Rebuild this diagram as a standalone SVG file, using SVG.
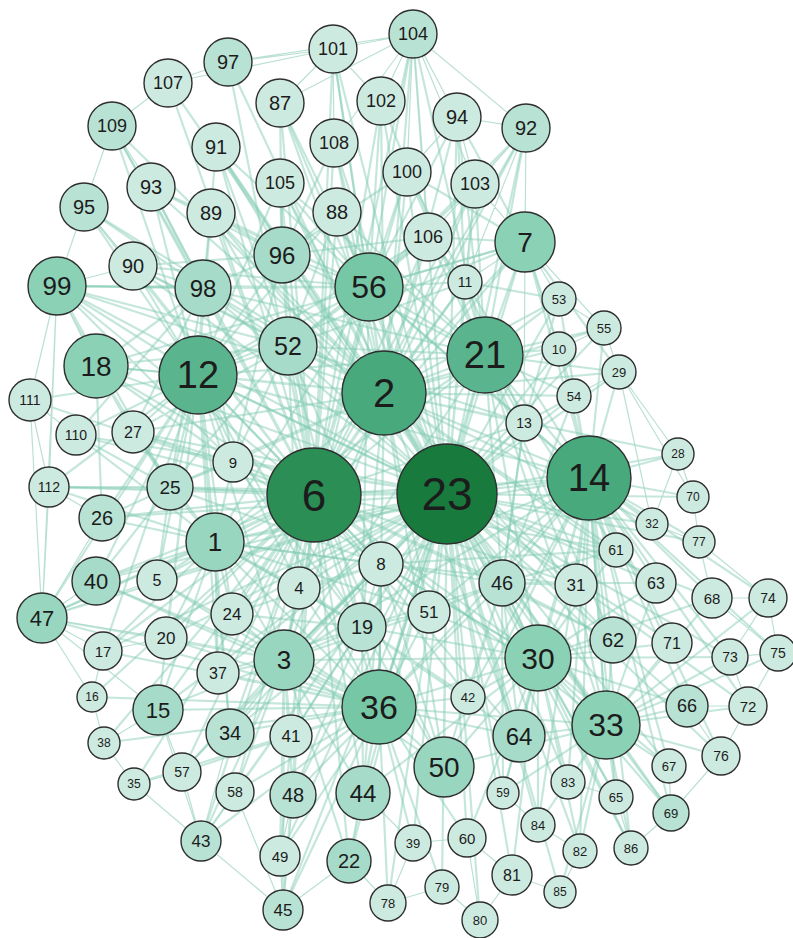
<svg xmlns="http://www.w3.org/2000/svg" width="793" height="938" viewBox="0 0 793 938">
<style>
.e{fill:none;stroke:#80cbb0;stroke-opacity:.46;stroke-width:2.2}
.p{fill:none;stroke:#a9d8c9;stroke-opacity:.8;stroke-width:1.2}
circle{stroke:#2e2e2e;stroke-width:1.4}
text{font-family:"Liberation Sans",Arial,sans-serif;text-anchor:middle;dominant-baseline:central;fill:#1c1c1c}
.a{fill:#cdeae1}.b{fill:#b8e2d4}.c{fill:#a5dbc8}.d{fill:#98d6c0}.e2{fill:#8ad1b6}.f{fill:#75c7a6}.g{fill:#5ab48d}.h{fill:#48a97c}.i{fill:#2a8e55}.j{fill:#187a3c}
.s12{font-size:12px}.s13{font-size:13px}.s14{font-size:14px}.s15{font-size:15px}.s16{font-size:16px}.s17{font-size:17px}.s18{font-size:18px}.s19{font-size:19px}.s20{font-size:20px}.s22{font-size:22px}.s24{font-size:24px}.s25{font-size:25px}.s26{font-size:26px}.s28{font-size:28px}.s30{font-size:30px}.s32{font-size:32px}.s34{font-size:34px}.s38{font-size:38px}.s40{font-size:40px}.s44{font-size:44px}.s46{font-size:46px}
</style>
<rect width="793" height="938" fill="#ffffff"/>
<g id="connectors">
<path class="e" d="M314 495L447 494L384 393M589 478L447 494L198 375M485 355L447 494L369 287M379 707L447 494L538 658M606 725L447 494L215 542M284 660L447 494L299 588M381 564L447 494L233 462M524 423L447 494L362 627M502 583L447 494L576 585M429 612L447 494L444 767M519 736L447 494L363 793M468 697L447 494L616 550M613 640L447 494L656 583M652 524L447 494L574 396M559 349L447 494L465 282M525 242L447 494L288 346M282 255L447 494L203 288M428 237L447 494L407 172M475 184L447 494L337 212M280 183L447 494L334 143M381 101L447 494L457 117M526 128L447 494L170 487M102 518L447 494L133 432M96 366L447 494L57 286M232 614L447 494L166 638M218 673L447 494L230 733M291 736L447 494L293 795M349 861L447 494L413 843M467 838L447 494L503 793M568 782L447 494L538 825M616 797L447 494L687 706M669 766L447 494L672 643M712 598L447 494L699 542M693 497L447 494L678 454M619 372L447 494L559 299M604 328L447 494L157 580M96 581L447 494L158 710M235 792L447 494L201 841M512 875L447 494L442 887M388 903L447 494L480 920M730 657L447 494L748 706M721 756L447 494L671 813M631 848L447 494L580 851M560 892L447 494L280 856M283 910L447 494L182 772M103 651L447 494L76 435M49 487L447 494L42 618M211 213L447 494L133 266M216 147L447 494L280 103M333 49L447 494L413 34"/>
<path class="e" d="M384 393L314 495L198 375M485 355L314 495L369 287M379 707L314 495L538 658M606 725L314 495L215 542M284 660L314 495L299 588M381 564L314 495L233 462M362 627L314 495L170 487M102 518L314 495L133 432M96 366L314 495L57 286M232 614L314 495L166 638M157 580L314 495L96 581M42 618L314 495L218 673M230 733L314 495L158 710M291 736L314 495L293 795M363 793L314 495L444 767M502 583L314 495L429 612M288 346L314 495L282 255M203 288L314 495L211 213M133 266L314 495L151 187M84 207L314 495L280 183M337 212L314 495L216 147M280 103L314 495L334 143M76 435L314 495L30 400M49 487L314 495L103 651M92 697L314 495L104 743M134 784L314 495L182 772M235 792L314 495L201 841M280 856L314 495L349 861M283 910L314 495L519 736M468 697L314 495L524 423M589 478L314 495L576 585M613 640L314 495L616 550M465 282L314 495L428 237M407 172L314 495L525 242M526 128L314 495L475 184M413 34L314 495L333 49M381 101L314 495L112 126M168 83L314 495L228 62"/>
<path class="e" d="M198 375L384 393L485 355M369 287L384 393L288 346M282 255L384 393L203 288M337 212L384 393L428 237M407 172L384 393L475 184M280 183L384 393L334 143M525 242L384 393L465 282M524 423L384 393L589 478M574 396L384 393L559 349M559 299L384 393L604 328M215 542L384 393L233 462M170 487L384 393L133 432M96 366L384 393L57 286M133 266L384 393L284 660M362 627L384 393L379 707M538 658L384 393L606 725M502 583L384 393L576 585M381 564L384 393L299 588M429 612L384 393L444 767M519 736L384 393L613 640M616 550L384 393L656 583M652 524L384 393L678 454M526 128L384 393L457 117M381 101L384 393L413 34M333 49L384 393L280 103M216 147L384 393L211 213M151 187L384 393L84 207M112 126L384 393L168 83M228 62L384 393L619 372"/>
<path class="e" d="M485 355L589 478L678 454M693 497L589 478L699 542M652 524L589 478L616 550M656 583L589 478L712 598M768 598L589 478L576 585M613 640L589 478L672 643M730 657L589 478L778 653M538 658L589 478L606 725M687 706L589 478L748 706M721 756L589 478L669 766M671 813L589 478L616 797M568 782L589 478L502 583M524 423L589 478L574 396M619 372L589 478L559 349M604 328L589 478L559 299M525 242L589 478L465 282M198 375L589 478L369 287M429 612L589 478L519 736M444 767L589 478L379 707M468 697L589 478L503 793M538 825L589 478L580 851M631 848L589 478L284 660M215 542L589 478L381 564"/>
<path class="e" d="M96 366L198 375L57 286M30 400L198 375L76 435M133 432L198 375L170 487M233 462L198 375L102 518M49 487L198 375L96 581M42 618L198 375L157 580M215 542L198 375L288 346M203 288L198 375L133 266M84 207L198 375L151 187M211 213L198 375L282 255M369 287L198 375L485 355M284 660L198 375L232 614M166 638L198 375L299 588M381 564L198 375L379 707M362 627L198 375L103 651M158 710L198 375L218 673M230 733L198 375L112 126M216 147L198 375L280 183M337 212L198 375L428 237M525 242L198 375L447 494"/>
<path class="e" d="M525 242L485 355L465 282M559 299L485 355L604 328M559 349L485 355L574 396M524 423L485 355L619 372M428 237L485 355L475 184M407 172L485 355L526 128M457 117L485 355L369 287M288 346L485 355L282 255M203 288L485 355L337 212M280 183L485 355L381 101M413 34L485 355L538 658M606 725L485 355L502 583M576 585L485 355L613 640M616 550L485 355L379 707M284 660L485 355L215 542"/>
<path class="e" d="M288 346L369 287L282 255M203 288L369 287L337 212M428 237L369 287L407 172M280 183L369 287L334 143M381 101L369 287L333 49M413 34L369 287L280 103M216 147L369 287L211 213M151 187L369 287L133 266M57 286L369 287L96 366M525 242L369 287L465 282M475 184L369 287L526 128M457 117L369 287L524 423M284 660L369 287L215 542M362 627L369 287L589 478"/>
<path class="e" d="M284 660L379 707L362 627M291 736L379 707L293 795M363 793L379 707L349 861M230 733L379 707L218 673M158 710L379 707L232 614M166 638L379 707L299 588M381 564L379 707L429 612M444 767L379 707L468 697M519 736L379 707L538 658M606 725L379 707L413 843M467 838L379 707L283 910M280 856L379 707L235 792M182 772L379 707L201 841M388 903L379 707L442 887M502 583L379 707L215 542M157 580L379 707L96 581M42 618L379 707L92 697M104 743L379 707L134 784M103 651L379 707L447 494"/>
<path class="e" d="M606 725L538 658L613 640M519 736L538 658L444 767M468 697L538 658L502 583M576 585L538 658L616 550M656 583L538 658L672 643M687 706L538 658L503 793M568 782L538 658L538 825M616 797L538 658L467 838M512 875L538 658L284 660M362 627L538 658L429 612M381 564L538 658L363 793M580 851L538 658L631 848M669 766L538 658L671 813M712 598L538 658L730 657"/>
<path class="e" d="M613 640L606 725L672 643M687 706L606 725L748 706M730 657L606 725L778 653M721 756L606 725L669 766M671 813L606 725L616 797M631 848L606 725L580 851M568 782L606 725L538 825M560 892L606 725L519 736M503 793L606 725L444 767M656 583L606 725L712 598M768 598L606 725L502 583M576 585L606 725L589 478"/>
<path class="e" d="M170 487L215 542L102 518M96 581L215 542L157 580M232 614L215 542L166 638M218 673L215 542L284 660M299 588L215 542L233 462M133 432L215 542L76 435M49 487L215 542L42 618M103 651L215 542L158 710M230 733L215 542L362 627M381 564L215 542L429 612"/>
<path class="e" d="M232 614L284 660L218 673M299 588L284 660L362 627M230 733L284 660L291 736M293 795L284 660L158 710M166 638L284 660L157 580M96 581L284 660L235 792M182 772L284 660L201 841M280 856L284 660L363 793M381 564L284 660L429 612M444 767L284 660L349 861M283 910L284 660L42 618"/>
<path class="e" d="M282 255L288 346L203 288M211 213L288 346L280 183M337 212L288 346L216 147M133 266L288 346L233 462M133 432L288 346L170 487M381 564L288 346L299 588M362 627L288 346L524 423M465 282L288 346L428 237M57 286L133 432M57 286L170 487M57 286L233 462M57 286L203 288M57 286L288 346M96 366L133 432M96 366L170 487M96 366L102 518M96 366L233 462M96 366L288 346M96 366L203 288"/>
<path class="e" d="M215 542L381 564L284 660M299 588L381 564L233 462M232 614L381 564L362 627M429 612L381 564L502 583M576 585L381 564L379 707M538 658L381 564L363 793M444 767L381 564L170 487M524 423L381 564L616 550M215 542L362 627L299 588M232 614L362 627L218 673M291 736L362 627L230 733M293 795L362 627L363 793M444 767L362 627L429 612M468 697L362 627L519 736M502 583L362 627L233 462M576 585L502 583L616 550M613 640L502 583L538 658M519 736L502 583L468 697M429 612L502 583L444 767M524 423L502 583L574 396M656 583L502 583L503 793"/>
<path class="e" d="M211 213L282 255L280 183M337 212L282 255L216 147M280 103L282 255L334 143M203 288L282 255L133 266M151 187L282 255L233 462M428 237L282 255L407 172M133 266L203 288L211 213M151 187L203 288L84 207M57 286L203 288L133 432M170 487L203 288L233 462M76 435L203 288L112 126M428 237L525 242L407 172M457 117L525 242L619 372M574 396L525 242L369 287M170 487L233 462L133 432M102 518L170 487L133 432M76 435L170 487L49 487M157 580L170 487L96 581M465 282L524 423L574 396M559 349L524 423L502 583M524 423L559 299M465 282L559 299M465 282L428 237M465 282L407 172M465 282L457 117"/>
<path class="p" d="M413 34L333 49M413 34L381 101M413 34L457 117M413 34L526 128M413 34L407 172M413 34L334 143M413 34L475 184M413 34L428 237M413 34L280 103M413 34L228 62M333 49L228 62M333 49L168 83M333 49L280 103M333 49L381 101M333 49L334 143M228 62L168 83M168 83L112 126M112 126L84 207M112 126L151 187M84 207L57 286M84 207L133 266M57 286L30 400M57 286L49 487M57 286L42 618M57 286L96 366M57 286L133 266M30 400L49 487M30 400L42 618M30 400L76 435M49 487L42 618M49 487L102 518M42 618L96 581M42 618L102 518M42 618L103 651M42 618L157 580M42 618L166 638M42 618L158 710M42 618L92 697M526 128L457 117M526 128L475 184M526 128L525 242M526 128L428 237M526 128L465 282M475 184L525 242M475 184L465 282M457 117L475 184M457 117L407 172M525 242L559 299M525 242L604 328M525 242L559 349M525 242L524 423M525 242L465 282M559 299L604 328M604 328L619 372M604 328L559 349M619 372L574 396M619 372L678 454M678 454L693 497M693 497L699 542M652 524L699 542M699 542L768 598M768 598L712 598M768 598L778 653M712 598L778 653M778 653L730 657M730 657L748 706M748 706L687 706M748 706L721 756M687 706L721 756M721 756L671 813M669 766L671 813M671 813L631 848M631 848L616 797M580 851L560 892M580 851L538 825M560 892L512 875M512 875L480 920M480 920L442 887M480 920L467 838M442 887L388 903M388 903L349 861M388 903L413 843M413 843L467 838M283 910L280 856M283 910L201 841M283 910L349 861M283 910L293 795M283 910L235 792M201 841L235 792M201 841L182 772M201 841L134 784M201 841L158 710M201 841L230 733M134 784L104 743M104 743L92 697M134 784L182 772M92 697L103 651M103 651L166 638M158 710L182 772M158 710L104 743M280 856L293 795M349 861L363 793M413 843L363 793M467 838L512 875M538 825L503 793M568 782L616 797M778 653L748 706M768 598L730 657M699 542L712 598M678 454L652 524M619 372L652 524M619 372L693 497"/>
</g>
<g id="nodes">
<g id="n104"><circle class="b" cx="413" cy="34" r="24"/><text class="s18" x="413" y="34">104</text></g>
<g id="n101"><circle class="a" cx="333" cy="49" r="24"/><text class="s18" x="333" y="49">101</text></g>
<g id="n97"><circle class="b" cx="228" cy="62" r="24"/><text class="s20" x="228" y="62">97</text></g>
<g id="n107"><circle class="a" cx="168" cy="83" r="24"/><text class="s18" x="168" y="83">107</text></g>
<g id="n87"><circle class="a" cx="280" cy="103" r="24"/><text class="s20" x="280" y="103">87</text></g>
<g id="n102"><circle class="a" cx="381" cy="101" r="24"/><text class="s18" x="381" y="101">102</text></g>
<g id="n94"><circle class="a" cx="457" cy="117" r="24"/><text class="s20" x="457" y="117">94</text></g>
<g id="n92"><circle class="b" cx="526" cy="128" r="24"/><text class="s20" x="526" y="128">92</text></g>
<g id="n109"><circle class="b" cx="112" cy="126" r="24"/><text class="s18" x="112" y="126">109</text></g>
<g id="n91"><circle class="a" cx="216" cy="147" r="24"/><text class="s20" x="216" y="147">91</text></g>
<g id="n108"><circle class="a" cx="334" cy="143" r="24"/><text class="s18" x="334" y="143">108</text></g>
<g id="n100"><circle class="a" cx="407" cy="172" r="24"/><text class="s18" x="407" y="172">100</text></g>
<g id="n103"><circle class="a" cx="475" cy="184" r="24"/><text class="s18" x="475" y="184">103</text></g>
<g id="n93"><circle class="a" cx="151" cy="187" r="24"/><text class="s20" x="151" y="187">93</text></g>
<g id="n105"><circle class="a" cx="280" cy="183" r="24"/><text class="s18" x="280" y="183">105</text></g>
<g id="n95"><circle class="b" cx="84" cy="207" r="24"/><text class="s20" x="84" y="207">95</text></g>
<g id="n89"><circle class="a" cx="211" cy="213" r="24"/><text class="s20" x="211" y="213">89</text></g>
<g id="n88"><circle class="a" cx="337" cy="212" r="24"/><text class="s20" x="337" y="212">88</text></g>
<g id="n106"><circle class="a" cx="428" cy="237" r="24"/><text class="s18" x="428" y="237">106</text></g>
<g id="n7"><circle class="e2" cx="525" cy="242" r="30"/><text class="s28" x="525" y="242">7</text></g>
<g id="n96"><circle class="c" cx="282" cy="255" r="28"/><text class="s24" x="282" y="255">96</text></g>
<g id="n90"><circle class="a" cx="133" cy="266" r="24"/><text class="s20" x="133" y="266">90</text></g>
<g id="n99"><circle class="e2" cx="57" cy="286" r="29"/><text class="s26" x="57" y="286">99</text></g>
<g id="n98"><circle class="c" cx="203" cy="288" r="28"/><text class="s24" x="203" y="288">98</text></g>
<g id="n56"><circle class="f" cx="369" cy="287" r="34"/><text class="s32" x="369" y="287">56</text></g>
<g id="n11"><circle class="a" cx="465" cy="282" r="17"/><text class="s14" x="465" y="282">11</text></g>
<g id="n53"><circle class="a" cx="559" cy="299" r="17"/><text class="s13" x="559" y="299">53</text></g>
<g id="n55"><circle class="a" cx="604" cy="328" r="17"/><text class="s13" x="604" y="328">55</text></g>
<g id="n52"><circle class="c" cx="288" cy="346" r="29"/><text class="s25" x="288" y="346">52</text></g>
<g id="n18"><circle class="e2" cx="96" cy="366" r="32"/><text class="s28" x="96" y="366">18</text></g>
<g id="n12"><circle class="g" cx="198" cy="375" r="39"/><text class="s38" x="198" y="375">12</text></g>
<g id="n2"><circle class="h" cx="384" cy="393" r="42"/><text class="s40" x="384" y="393">2</text></g>
<g id="n21"><circle class="g" cx="485" cy="355" r="38"/><text class="s38" x="485" y="355">21</text></g>
<g id="n10"><circle class="a" cx="559" cy="349" r="17"/><text class="s13" x="559" y="349">10</text></g>
<g id="n29"><circle class="a" cx="619" cy="372" r="17"/><text class="s13" x="619" y="372">29</text></g>
<g id="n54"><circle class="a" cx="574" cy="396" r="17"/><text class="s13" x="574" y="396">54</text></g>
<g id="n13"><circle class="a" cx="524" cy="423" r="18"/><text class="s14" x="524" y="423">13</text></g>
<g id="n111"><circle class="a" cx="30" cy="400" r="21"/><text class="s14" x="30" y="400">111</text></g>
<g id="n110"><circle class="a" cx="76" cy="435" r="20"/><text class="s14" x="76" y="435">110</text></g>
<g id="n27"><circle class="a" cx="133" cy="432" r="21"/><text class="s16" x="133" y="432">27</text></g>
<g id="n9"><circle class="a" cx="233" cy="462" r="20"/><text class="s15" x="233" y="462">9</text></g>
<g id="n6"><circle class="i" cx="314" cy="495" r="47"/><text class="s44" x="314" y="495">6</text></g>
<g id="n23"><circle class="j" cx="447" cy="494" r="50"/><text class="s46" x="447" y="494">23</text></g>
<g id="n14"><circle class="h" cx="589" cy="478" r="42"/><text class="s38" x="589" y="478">14</text></g>
<g id="n28"><circle class="a" cx="678" cy="454" r="16"/><text class="s12" x="678" y="454">28</text></g>
<g id="n70"><circle class="a" cx="693" cy="497" r="16"/><text class="s12" x="693" y="497">70</text></g>
<g id="n25"><circle class="b" cx="170" cy="487" r="23"/><text class="s19" x="170" y="487">25</text></g>
<g id="n112"><circle class="a" cx="49" cy="487" r="20"/><text class="s14" x="49" y="487">112</text></g>
<g id="n26"><circle class="b" cx="102" cy="518" r="23"/><text class="s20" x="102" y="518">26</text></g>
<g id="n1"><circle class="d" cx="215" cy="542" r="29"/><text class="s26" x="215" y="542">1</text></g>
<g id="n8"><circle class="a" cx="381" cy="564" r="22"/><text class="s17" x="381" y="564">8</text></g>
<g id="n32"><circle class="a" cx="652" cy="524" r="16"/><text class="s12" x="652" y="524">32</text></g>
<g id="n77"><circle class="a" cx="699" cy="542" r="16"/><text class="s12" x="699" y="542">77</text></g>
<g id="n61"><circle class="a" cx="616" cy="550" r="17"/><text class="s14" x="616" y="550">61</text></g>
<g id="n40"><circle class="c" cx="96" cy="581" r="24"/><text class="s22" x="96" y="581">40</text></g>
<g id="n5"><circle class="a" cx="157" cy="580" r="20"/><text class="s16" x="157" y="580">5</text></g>
<g id="n4"><circle class="a" cx="299" cy="588" r="21"/><text class="s17" x="299" y="588">4</text></g>
<g id="n46"><circle class="b" cx="502" cy="583" r="23"/><text class="s20" x="502" y="583">46</text></g>
<g id="n31"><circle class="a" cx="576" cy="585" r="21"/><text class="s17" x="576" y="585">31</text></g>
<g id="n63"><circle class="a" cx="656" cy="583" r="20"/><text class="s16" x="656" y="583">63</text></g>
<g id="n68"><circle class="a" cx="712" cy="598" r="20"/><text class="s15" x="712" y="598">68</text></g>
<g id="n74"><circle class="a" cx="768" cy="598" r="19"/><text class="s14" x="768" y="598">74</text></g>
<g id="n47"><circle class="d" cx="42" cy="618" r="25"/><text class="s22" x="42" y="618">47</text></g>
<g id="n24"><circle class="a" cx="232" cy="614" r="21"/><text class="s17" x="232" y="614">24</text></g>
<g id="n19"><circle class="b" cx="362" cy="627" r="24"/><text class="s20" x="362" y="627">19</text></g>
<g id="n51"><circle class="a" cx="429" cy="612" r="21"/><text class="s17" x="429" y="612">51</text></g>
<g id="n20"><circle class="a" cx="166" cy="638" r="21"/><text class="s17" x="166" y="638">20</text></g>
<g id="n3"><circle class="d" cx="284" cy="660" r="30"/><text class="s26" x="284" y="660">3</text></g>
<g id="n62"><circle class="b" cx="613" cy="640" r="23"/><text class="s20" x="613" y="640">62</text></g>
<g id="n71"><circle class="a" cx="672" cy="643" r="20"/><text class="s16" x="672" y="643">71</text></g>
<g id="n73"><circle class="a" cx="730" cy="657" r="18"/><text class="s14" x="730" y="657">73</text></g>
<g id="n75"><circle class="a" cx="778" cy="653" r="18"/><text class="s14" x="778" y="653">75</text></g>
<g id="n30"><circle class="e2" cx="538" cy="658" r="33"/><text class="s30" x="538" y="658">30</text></g>
<g id="n17"><circle class="a" cx="103" cy="651" r="19"/><text class="s15" x="103" y="651">17</text></g>
<g id="n37"><circle class="a" cx="218" cy="673" r="21"/><text class="s16" x="218" y="673">37</text></g>
<g id="n16"><circle class="a" cx="92" cy="697" r="15"/><text class="s12" x="92" y="697">16</text></g>
<g id="n15"><circle class="c" cx="158" cy="710" r="25"/><text class="s22" x="158" y="710">15</text></g>
<g id="n36"><circle class="f" cx="379" cy="707" r="37"/><text class="s34" x="379" y="707">36</text></g>
<g id="n42"><circle class="a" cx="468" cy="697" r="17"/><text class="s13" x="468" y="697">42</text></g>
<g id="n33"><circle class="e2" cx="606" cy="725" r="34"/><text class="s32" x="606" y="725">33</text></g>
<g id="n66"><circle class="b" cx="687" cy="706" r="21"/><text class="s18" x="687" y="706">66</text></g>
<g id="n72"><circle class="a" cx="748" cy="706" r="19"/><text class="s15" x="748" y="706">72</text></g>
<g id="n34"><circle class="b" cx="230" cy="733" r="24"/><text class="s20" x="230" y="733">34</text></g>
<g id="n41"><circle class="a" cx="291" cy="736" r="21"/><text class="s17" x="291" y="736">41</text></g>
<g id="n38"><circle class="a" cx="104" cy="743" r="16"/><text class="s12" x="104" y="743">38</text></g>
<g id="n64"><circle class="c" cx="519" cy="736" r="26"/><text class="s24" x="519" y="736">64</text></g>
<g id="n76"><circle class="a" cx="721" cy="756" r="19"/><text class="s14" x="721" y="756">76</text></g>
<g id="n67"><circle class="a" cx="669" cy="766" r="17"/><text class="s13" x="669" y="766">67</text></g>
<g id="n50"><circle class="d" cx="444" cy="767" r="30"/><text class="s28" x="444" y="767">50</text></g>
<g id="n57"><circle class="a" cx="182" cy="772" r="19"/><text class="s14" x="182" y="772">57</text></g>
<g id="n35"><circle class="a" cx="134" cy="784" r="16"/><text class="s12" x="134" y="784">35</text></g>
<g id="n58"><circle class="a" cx="235" cy="792" r="19"/><text class="s14" x="235" y="792">58</text></g>
<g id="n48"><circle class="b" cx="293" cy="795" r="23"/><text class="s20" x="293" y="795">48</text></g>
<g id="n44"><circle class="c" cx="363" cy="793" r="27"/><text class="s24" x="363" y="793">44</text></g>
<g id="n59"><circle class="a" cx="503" cy="793" r="16"/><text class="s12" x="503" y="793">59</text></g>
<g id="n83"><circle class="a" cx="568" cy="782" r="17"/><text class="s13" x="568" y="782">83</text></g>
<g id="n65"><circle class="a" cx="616" cy="797" r="17"/><text class="s13" x="616" y="797">65</text></g>
<g id="n69"><circle class="b" cx="671" cy="813" r="18"/><text class="s13" x="671" y="813">69</text></g>
<g id="n84"><circle class="a" cx="538" cy="825" r="17"/><text class="s13" x="538" y="825">84</text></g>
<g id="n39"><circle class="a" cx="413" cy="843" r="18"/><text class="s13" x="413" y="843">39</text></g>
<g id="n60"><circle class="a" cx="467" cy="838" r="19"/><text class="s15" x="467" y="838">60</text></g>
<g id="n82"><circle class="a" cx="580" cy="851" r="17"/><text class="s13" x="580" y="851">82</text></g>
<g id="n86"><circle class="a" cx="631" cy="848" r="17"/><text class="s13" x="631" y="848">86</text></g>
<g id="n43"><circle class="b" cx="201" cy="841" r="20"/><text class="s17" x="201" y="841">43</text></g>
<g id="n49"><circle class="a" cx="280" cy="856" r="20"/><text class="s15" x="280" y="856">49</text></g>
<g id="n22"><circle class="c" cx="349" cy="861" r="22"/><text class="s20" x="349" y="861">22</text></g>
<g id="n81"><circle class="a" cx="512" cy="875" r="20"/><text class="s16" x="512" y="875">81</text></g>
<g id="n79"><circle class="a" cx="442" cy="887" r="17"/><text class="s13" x="442" y="887">79</text></g>
<g id="n85"><circle class="a" cx="560" cy="892" r="16"/><text class="s12" x="560" y="892">85</text></g>
<g id="n78"><circle class="a" cx="388" cy="903" r="18"/><text class="s13" x="388" y="903">78</text></g>
<g id="n45"><circle class="b" cx="283" cy="910" r="20"/><text class="s17" x="283" y="910">45</text></g>
<g id="n80"><circle class="a" cx="480" cy="920" r="18"/><text class="s13" x="480" y="920">80</text></g>
</g>
</svg>
